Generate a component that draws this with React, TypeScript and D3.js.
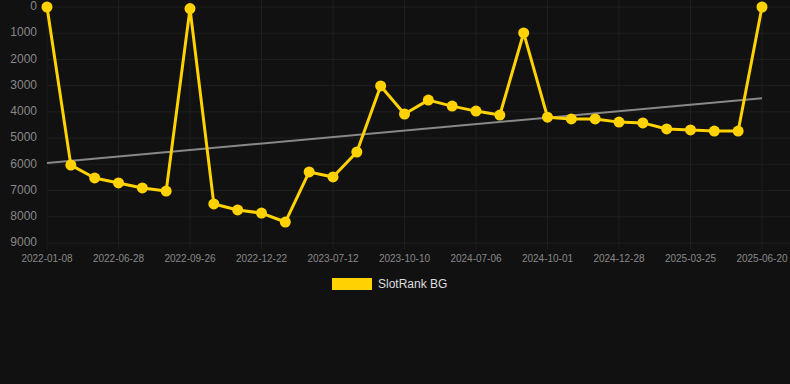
import React from "react";
import * as d3 from "d3";

const dates = [
  "2022-01-08", "2022-03-10", "2022-05-02", "2022-06-28", "2022-07-30", "2022-08-28",
  "2022-09-26", "2022-10-25", "2022-11-23", "2022-12-22", "2023-02-15", "2023-05-10",
  "2023-07-12", "2023-08-10", "2023-09-10", "2023-10-10", "2024-01-20", "2024-04-10",
  "2024-07-06", "2024-08-05", "2024-09-03", "2024-10-01", "2024-10-30", "2024-11-28",
  "2024-12-28", "2025-01-26", "2025-02-24", "2025-03-25", "2025-04-23", "2025-05-22",
  "2025-06-20",
];
const ranks = [
  0, 6030, 6520, 6710, 6900, 7020, 60, 7510, 7740, 7860, 8200, 6290, 6480, 5530, 3010, 4080,
  3550, 3780, 3970, 4120, 990, 4200, 4270, 4270, 4390, 4420, 4650, 4690, 4730, 4730, 0,
];
const trendValues = [5950, 3480];
const yTicks = [0, 1000, 2000, 3000, 4000, 5000, 6000, 7000, 8000, 9000];
const seriesName = "SlotRank BG";

const W = 790;
const H = 384;

export default function App() {
  const x = d3.scalePoint<string>().domain(dates).range([47, 762]);
  const y = d3.scaleLinear().domain([0, 9000]).range([7, 243]);
  const line = d3
    .line<number>()
    .x((_, i) => x(dates[i]) as number)
    .y((d) => y(d));
  const labelIdx = dates.map((_, i) => i).filter((i) => i % 3 === 0);
  const color = "#FFD200";
  return (
    <svg
      width={W}
      height={H}
      style={{ position: "absolute", left: 0, top: 0, background: "#111111" }}
      fontFamily="Arial, Liberation Sans, sans-serif"
    >
      <rect width={W} height={H} fill="#111111" />
      {yTicks.map((t) => (
        <line key={"h" + t} x1={47} x2={790} y1={y(t)} y2={y(t)} stroke="#1f1f1f" strokeWidth={1} />
      ))}
      {labelIdx.map((i) => (
        <line
          key={"v" + i}
          x1={x(dates[i])}
          x2={x(dates[i])}
          y1={0}
          y2={249}
          stroke="#1f1f1f"
          strokeWidth={1}
        />
      ))}
      {yTicks.map((t) => (
        <text
          key={"yl" + t}
          x={37}
          y={y(t)}
          textAnchor="end"
          dominantBaseline="middle"
          fill="#888"
          fontSize={12}
        >
          {t}
        </text>
      ))}
      {labelIdx.map((i) => (
        <text
          key={"xl" + i}
          x={x(dates[i])}
          y={259}
          textAnchor="middle"
          dominantBaseline="middle"
          fill="#888"
          fontSize={10}
        >
          {dates[i]}
        </text>
      ))}
      <line
        x1={x(dates[0])}
        x2={x(dates[dates.length - 1])}
        y1={y(trendValues[0])}
        y2={y(trendValues[1])}
        stroke="#888"
        strokeWidth={2}
      />
      <path d={line(ranks) || ""} fill="none" stroke={color} strokeWidth={3} strokeLinejoin="round" />
      {ranks.map((v, i) => (
        <circle key={"p" + i} cx={x(dates[i])} cy={y(v)} r={5.5} fill={color} />
      ))}
      <rect x={332} y={278} width={40} height={12} fill={color} />
      <text x={378} y={285} dominantBaseline="middle" fill="#ddd" fontSize={12}>
        {seriesName}
      </text>
    </svg>
  );
}
